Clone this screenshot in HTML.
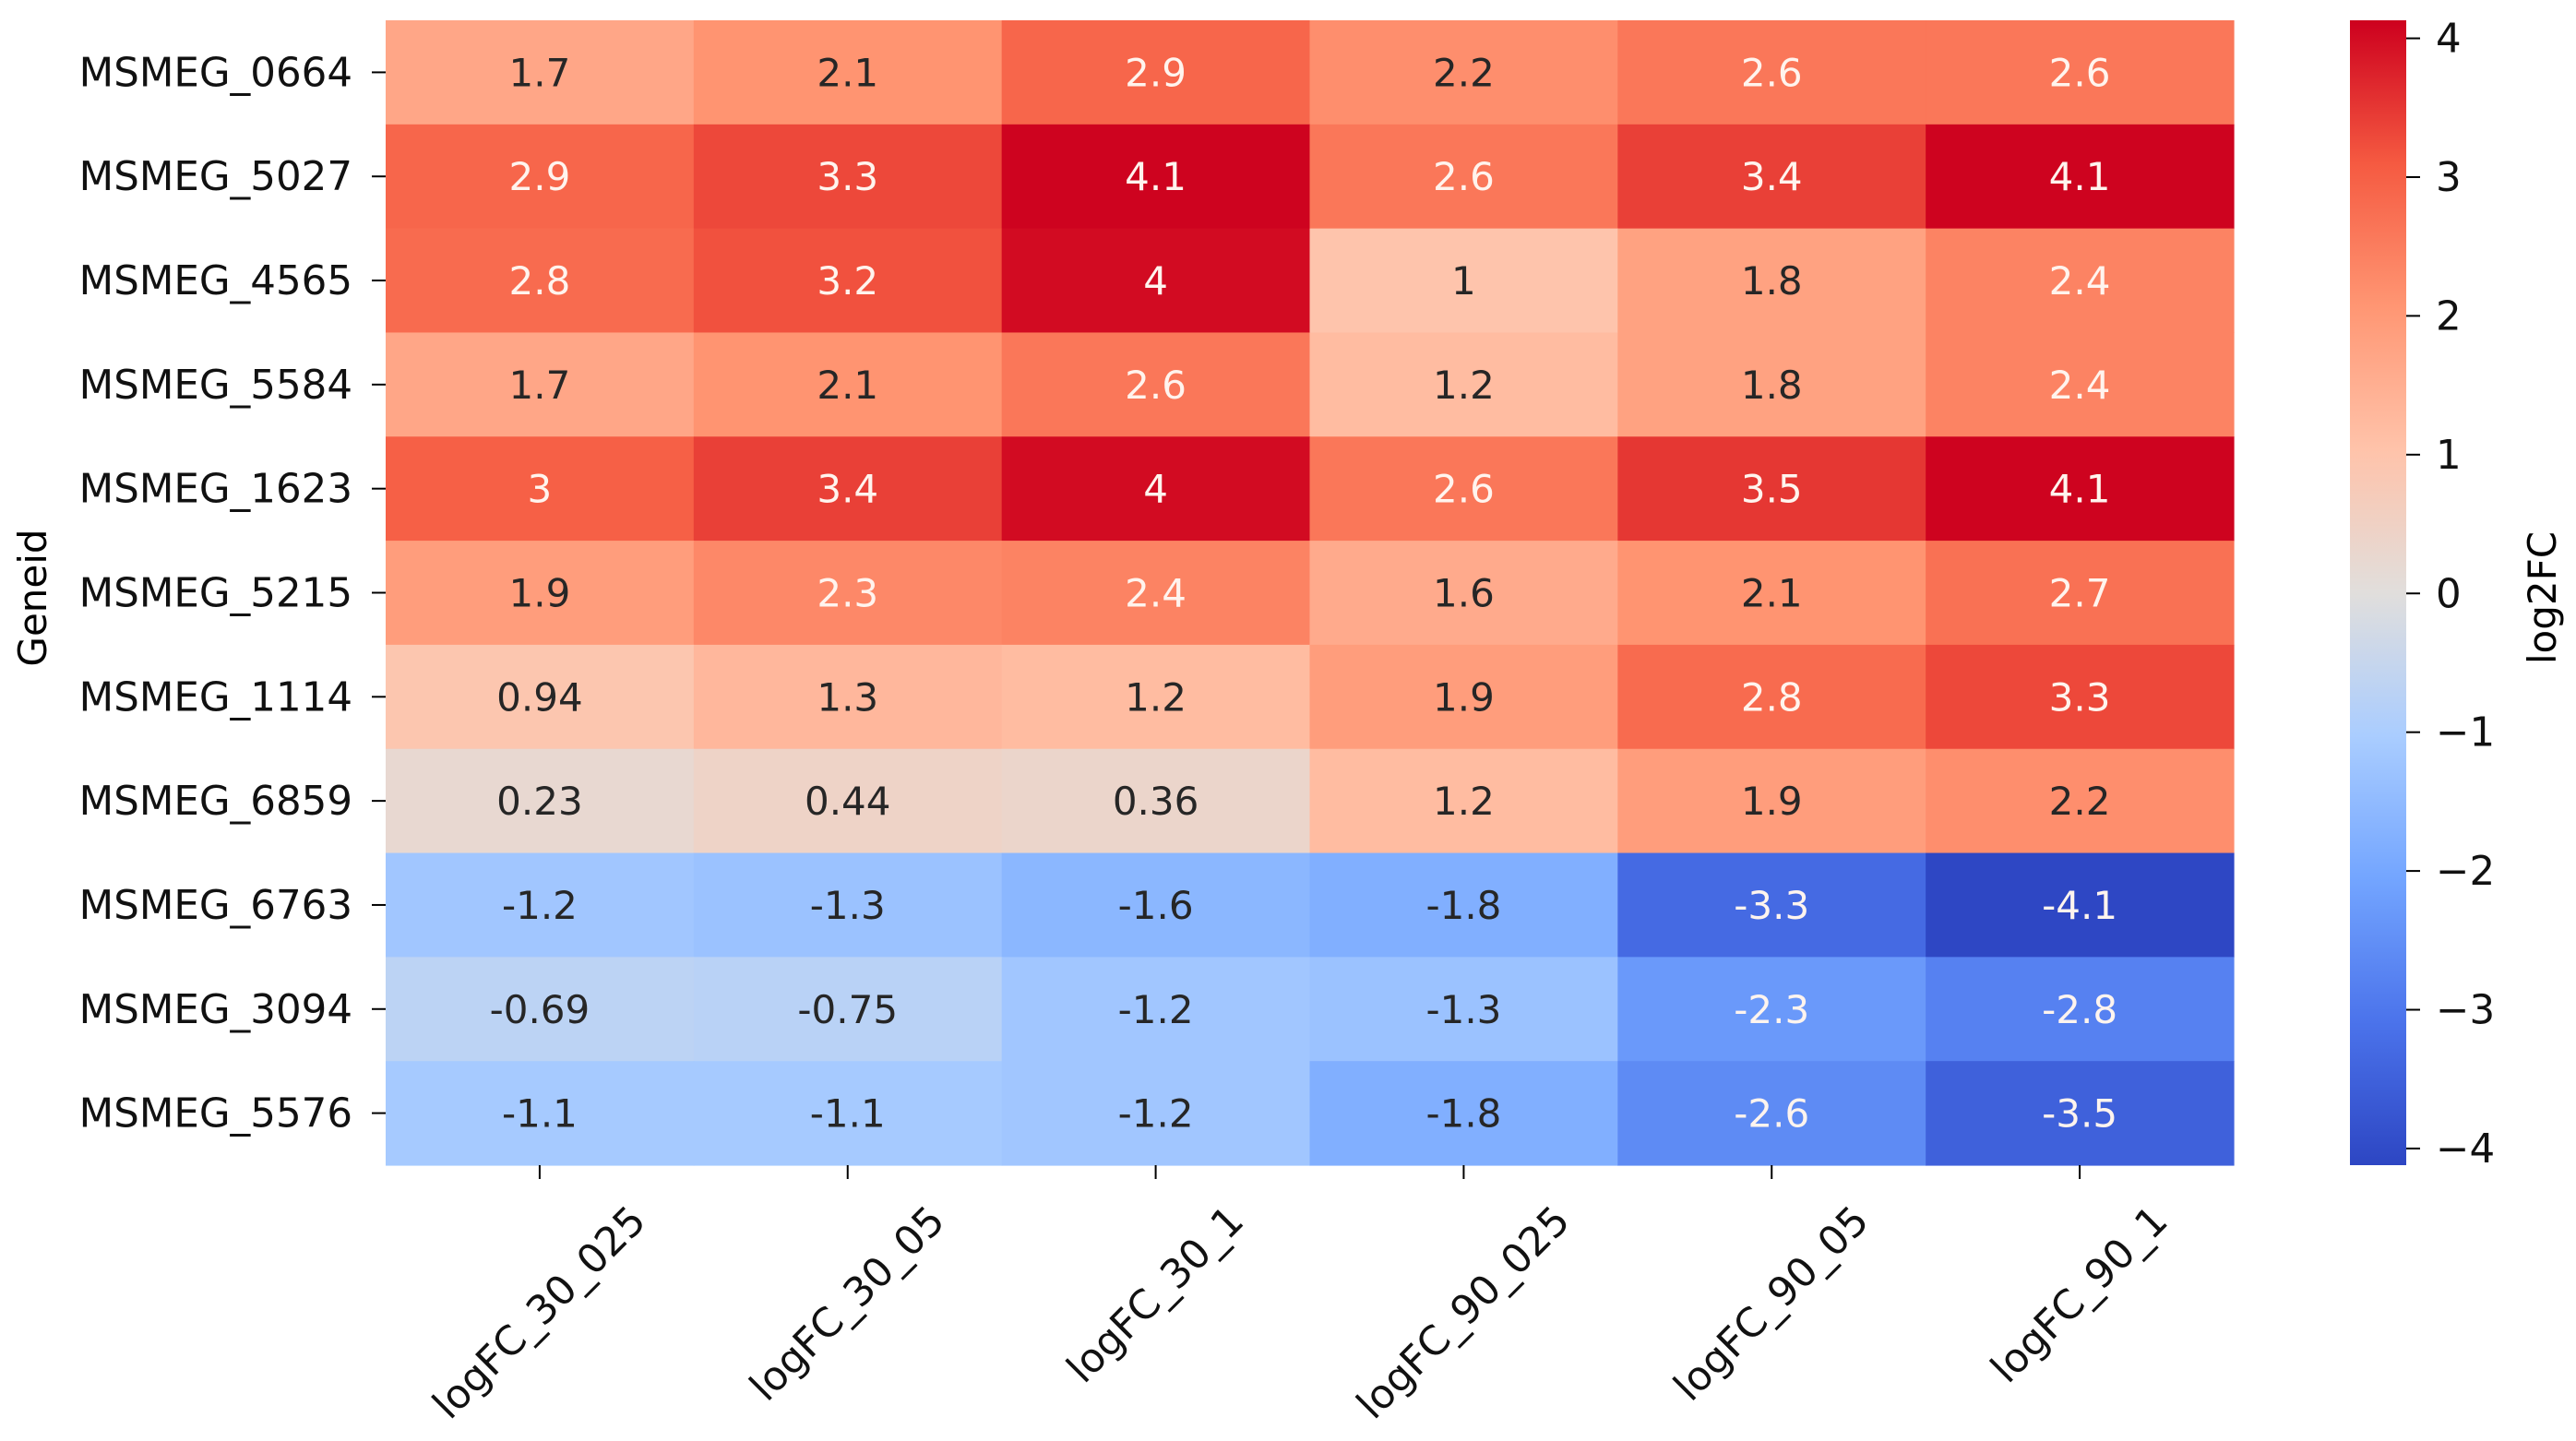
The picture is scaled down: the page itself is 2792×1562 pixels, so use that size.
<!DOCTYPE html>
<html><head><meta charset="utf-8">
<style>
html,body{margin:0;padding:0;background:#fff;}
svg{display:block;}
text{font-family:"DejaVu Sans","Liberation Sans",sans-serif;}
</style></head>
<body>
<svg id="chart" width="2792" height="1562" viewBox="0 0 2792 1562" xmlns="http://www.w3.org/2000/svg">
<defs><linearGradient id="cbgrad" x1="0" y1="1" x2="0" y2="0"></linearGradient></defs>
<g id="cells"></g>
<g id="yaxis"></g>
<g id="xaxis"></g>
<text x="0" y="0" font-size="42" text-anchor="middle" transform="translate(50,648) rotate(-90)">Geneid</text>
<rect x="2547" y="22" width="61" height="1241" fill="url(#cbgrad)"/>
<g id="cbticks"></g>
<text x="0" y="0" font-size="42" text-anchor="middle" transform="translate(2770,648) rotate(-90)">log2FC</text>
</svg>
<script>
const genes = ["MSMEG_0664","MSMEG_5027","MSMEG_4565","MSMEG_5584","MSMEG_1623","MSMEG_5215","MSMEG_1114","MSMEG_6859","MSMEG_6763","MSMEG_3094","MSMEG_5576"];
const conditions = ["logFC_30_025","logFC_30_05","logFC_30_1","logFC_90_025","logFC_90_05","logFC_90_1"];
const row0664 = [1.7,2.1,2.9,2.2,2.6,2.6];
const row5027 = [2.9,3.3,4.1,2.6,3.4,4.1];
const row4565 = [2.8,3.2,4,1,1.8,2.4];
const row5584 = [1.7,2.1,2.6,1.2,1.8,2.4];
const row1623 = [3,3.4,4,2.6,3.5,4.1];
const row5215 = [1.9,2.3,2.4,1.6,2.1,2.7];
const row1114 = [0.94,1.3,1.2,1.9,2.8,3.3];
const row6859 = [0.23,0.44,0.36,1.2,1.9,2.2];
const row6763 = [-1.2,-1.3,-1.6,-1.8,-3.3,-4.1];
const row3094 = [-0.69,-0.75,-1.2,-1.3,-2.3,-2.8];
const row5576 = [-1.1,-1.1,-1.2,-1.8,-2.6,-3.5];
const values = [row0664,row5027,row4565,row5584,row1623,row5215,row1114,row6859,row6763,row3094,row5576];
const cbTicks = [-4,-3,-2,-1,0,1,2,3,4];
const vmin = -4.12, vmax = 4.13;

const NS = "http://www.w3.org/2000/svg";
const L = 418, R = 2421, T = 22, B = 1263;
const cw = (R - L) / conditions.length, ch = (B - T) / genes.length;
const xPos = i => L + i * cw;
const yPos = j => T + j * ch;
const cbY = v => B - (v - vmin) / (vmax - vmin) * (B - T);

const stops = [[0,45,70,195],[0.125,75,115,235],[0.25,115,165,255],[0.375,170,205,255],[0.5,225,222,220],[0.625,255,195,170],[0.75,255,150,115],[0.875,245,90,65],[1,205,0,30]];
const cwStops = [[0,59,76,192],[0.125,98,130,234],[0.25,141,176,254],[0.375,184,208,249],[0.5,221,221,221],[0.625,245,196,173],[0.75,244,154,123],[0.875,222,96,77],[1,180,4,38]];
function interp(st, t){
  t = Math.max(0, Math.min(1, t));
  for (let k = 0; k < st.length - 1; k++) {
    const a = st[k], b = st[k+1];
    if (t <= b[0]) {
      const f = (t - a[0]) / (b[0] - a[0]);
      return [0,1,2].map(c => Math.round(a[c+1] + f * (b[c+1] - a[c+1])));
    }
  }
  return st[st.length-1].slice(1);
}
const cmap = t => interp(stops, t);
function lum(rgb){
  const l = rgb.map(c => { c /= 255; return c <= 0.03928 ? c / 12.92 : Math.pow((c + 0.055) / 1.055, 2.4); });
  return 0.2126*l[0] + 0.7152*l[1] + 0.0722*l[2];
}
function mk(tag, attrs, parent){
  const e = document.createElementNS(NS, tag);
  for (const k in attrs) e.setAttribute(k, attrs[k]);
  parent.appendChild(e);
  return e;
}

const cells = document.getElementById("cells");
values.forEach((row, j) => {
  row.forEach((v, i) => {
    const t0 = (v - vmin) / (vmax - vmin);
    const rgb = cmap(t0);
    const r = mk("rect", {x: xPos(i), y: yPos(j), width: cw + 0.6, height: ch + 0.6, fill: `rgb(${rgb})`}, cells);
    
    
    const dark = lum(interp(cwStops, t0)) < 0.408;
    const t = mk("text", {x: xPos(i) + cw/2, y: yPos(j) + ch/2 + 15, "font-size": 42, "text-anchor": "middle", fill: dark ? "#fff4ee" : "#262626"}, cells);
    
    
    t.textContent = String(v);
  });
});

const yaxis = document.getElementById("yaxis");
genes.forEach((g, j) => {
  const cy = yPos(j) + ch/2;
  const tk = mk("line", {x1: L - 15, x2: L, y1: cy, y2: cy, stroke: "#000", "stroke-width": 2}, yaxis);
  
  
  const t = mk("text", {x: L - 36, y: cy + 15, "font-size": 43.5, "text-anchor": "end", fill: "#111"}, yaxis);
  
  
  t.textContent = g;
});

const xaxis = document.getElementById("xaxis");
conditions.forEach((c, i) => {
  const cx = xPos(i) + cw/2;
  const tk = mk("line", {x1: cx, x2: cx, y1: B, y2: B + 15, stroke: "#000", "stroke-width": 2}, xaxis);
  
  
  const t = mk("text", {x: 0, y: 0, "font-size": 43.5, "text-anchor": "middle", "dominant-baseline": "central", fill: "#111"}, xaxis);
  
  
  t.textContent = c;
  const len = t.getComputedTextLength ? t.getComputedTextLength() : c.length * 26;
  const half = (len + 42) * 0.7071 / 2;
  t.setAttribute("transform", `translate(${cx},${B + 38 + half}) rotate(-45)`);
});

const grad = document.getElementById("cbgrad");
for (let k = 0; k <= 40; k++) {
  const rgb = cmap(k / 40);
  mk("stop", {offset: (k/40), "stop-color": `rgb(${rgb})`}, grad);
}
const cbt = document.getElementById("cbticks");
cbTicks.forEach(v => {
  const y = cbY(v);
  const tk = mk("line", {x1: 2608, x2: 2623, y1: y, y2: y, stroke: "#000", "stroke-width": 2}, cbt);
  
  
  const t = mk("text", {x: 2640, y: y + 15, "font-size": 43.5, fill: "#111"}, cbt);
  
  
  t.textContent = v < 0 ? "\u2212" + Math.abs(v) : String(v);
});
</script>
</body></html>
